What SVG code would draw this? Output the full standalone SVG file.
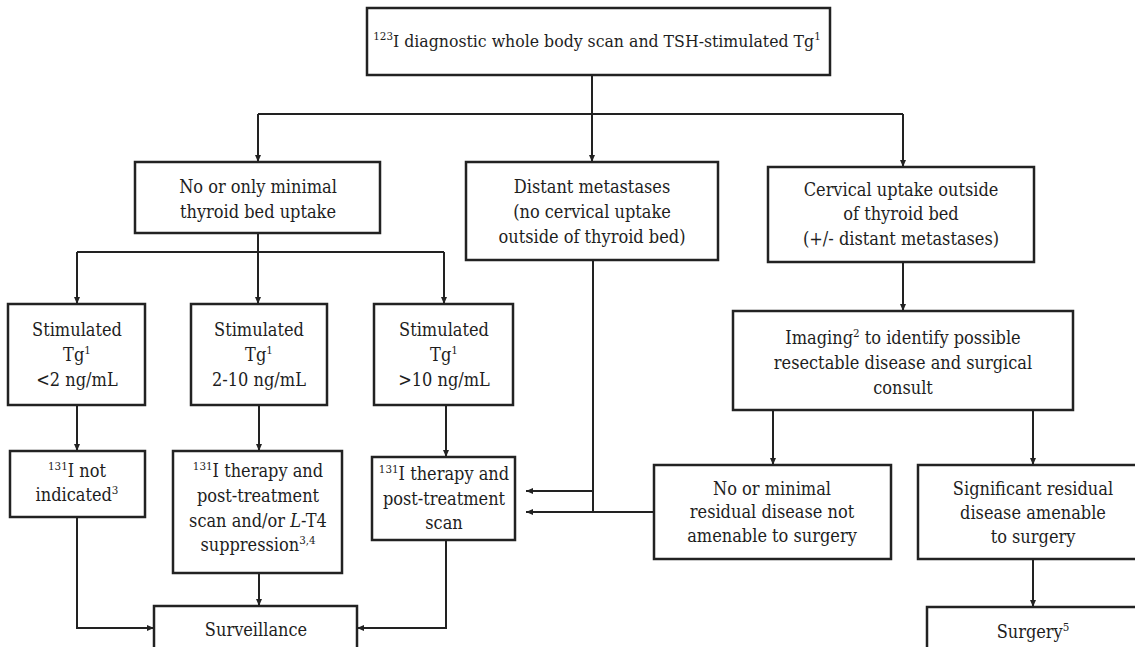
<svg xmlns="http://www.w3.org/2000/svg" width="1135" height="647" viewBox="0 0 1135 647">
<style>
.box{fill:#fff;stroke:#222;stroke-width:2.5}
.t{font-family:'DejaVu Serif Condensed','DejaVu Serif',serif;font-stretch:condensed;font-size:18px;fill:#1e1e1e;text-anchor:middle}
.top{font-size:17.5px}
.sup{font-size:11.5px}
.ln{fill:none;stroke:#222;stroke-width:2}
</style>
<defs>
<marker id="ah" markerWidth="8" markerHeight="8" refX="7" refY="4" orient="auto" markerUnits="userSpaceOnUse"><path d="M0,1 L7,4 L0,7 z" fill="#222"/></marker>
</defs>
<rect width="1135" height="647" fill="#fff"/>
<g id="connectors">
<path class="ln" d="M592,75 V114 M258,114 H903"/>
<path class="ln" d="M258,114 V162" marker-end="url(#ah)"/>
<path class="ln" d="M592,114 V162" marker-end="url(#ah)"/>
<path class="ln" d="M903,114 V167" marker-end="url(#ah)"/>
<path class="ln" d="M258,233 V304" marker-end="url(#ah)"/>
<path class="ln" d="M77,252 H444"/>
<path class="ln" d="M77,252 V304" marker-end="url(#ah)"/>
<path class="ln" d="M444,252 V304" marker-end="url(#ah)"/>
<path class="ln" d="M77,405 V451" marker-end="url(#ah)"/>
<path class="ln" d="M259,405 V451" marker-end="url(#ah)"/>
<path class="ln" d="M446,405 V457" marker-end="url(#ah)"/>
<path class="ln" d="M77,517 V628 H154" marker-end="url(#ah)"/>
<path class="ln" d="M259,573 V606" marker-end="url(#ah)"/>
<path class="ln" d="M446,540 V628 H357" marker-end="url(#ah)"/>
<path class="ln" d="M593,260 V512"/>
<path class="ln" d="M593,491 H526" marker-end="url(#ah)"/>
<path class="ln" d="M654,512 H526" marker-end="url(#ah)"/>
<path class="ln" d="M903,262 V311" marker-end="url(#ah)"/>
<path class="ln" d="M773,410 V465" marker-end="url(#ah)"/>
<path class="ln" d="M1033,410 V465" marker-end="url(#ah)"/>
<path class="ln" d="M1033,559 V607" marker-end="url(#ah)"/>
</g>
<g id="n-top">
<rect class="box" x="367" y="8" width="463" height="67"/>
<text class="t top" x="597" y="47"><tspan class="sup" dy="-7">123</tspan><tspan dy="7">I diagnostic whole body scan and TSH-stimulated Tg</tspan><tspan class="sup" dy="-7">1</tspan></text>
</g>
<g id="n-minimal">
<rect class="box" x="135" y="162" width="245" height="71"/>
<text class="t" x="258" y="193">No or only minimal</text>
<text class="t" x="258" y="218">thyroid bed uptake</text>
</g>
<g id="n-distant">
<rect class="box" x="466" y="162" width="252" height="98"/>
<text class="t" x="592" y="193">Distant metastases</text>
<text class="t" x="592" y="218">(no cervical uptake</text>
<text class="t" x="592" y="243">outside of thyroid bed)</text>
</g>
<g id="n-cervical">
<rect class="box" x="768" y="167" width="266" height="95"/>
<text class="t" x="901" y="196">Cervical uptake outside</text>
<text class="t" x="901" y="220">of thyroid bed</text>
<text class="t" x="901" y="245">(+/- distant metastases)</text>
</g>
<g id="n-tg-low">
<rect class="box" x="8" y="304" width="137" height="101"/>
<text class="t" x="77" y="336">Stimulated</text>
<text class="t" x="77" y="361">Tg<tspan class="sup" dy="-7">1</tspan></text>
<text class="t" x="77" y="386">&lt;2 ng/mL</text>
</g>
<g id="n-tg-mid">
<rect class="box" x="191" y="304" width="136" height="101"/>
<text class="t" x="259" y="336">Stimulated</text>
<text class="t" x="259" y="361">Tg<tspan class="sup" dy="-7">1</tspan></text>
<text class="t" x="259" y="386">2-10 ng/mL</text>
</g>
<g id="n-tg-high">
<rect class="box" x="374" y="304" width="139" height="101"/>
<text class="t" x="444" y="336">Stimulated</text>
<text class="t" x="444" y="361">Tg<tspan class="sup" dy="-7">1</tspan></text>
<text class="t" x="444" y="386">&gt;10 ng/mL</text>
</g>
<g id="n-imaging">
<rect class="box" x="733" y="311" width="340" height="99"/>
<text class="t" x="903" y="344">Imaging<tspan class="sup" dy="-7">2</tspan><tspan dy="7"> to identify possible</tspan></text>
<text class="t" x="903" y="369">resectable disease and surgical</text>
<text class="t" x="903" y="394">consult</text>
</g>
<g id="n-not-indicated">
<rect class="box" x="10" y="451" width="135" height="66"/>
<text class="t" x="77" y="477"><tspan class="sup" dy="-7">131</tspan><tspan dy="7">I not</tspan></text>
<text class="t" x="77" y="501">indicated<tspan class="sup" dy="-7">3</tspan></text>
</g>
<g id="n-therapy-lt4">
<rect class="box" x="173" y="451" width="169" height="122"/>
<text class="t" x="258" y="477"><tspan class="sup" dy="-7">131</tspan><tspan dy="7">I therapy and</tspan></text>
<text class="t" x="258" y="502">post-treatment</text>
<text class="t" x="258" y="527">scan and/or <tspan font-style="italic">L</tspan>-T4</text>
<text class="t" x="258" y="551">suppression<tspan class="sup" dy="-7">3,4</tspan></text>
</g>
<g id="n-therapy">
<rect class="box" x="372" y="457" width="143" height="83"/>
<text class="t" x="444" y="480"><tspan class="sup" dy="-7">131</tspan><tspan dy="7">I therapy and</tspan></text>
<text class="t" x="444" y="505">post-treatment</text>
<text class="t" x="444" y="529">scan</text>
</g>
<g id="n-residual">
<rect class="box" x="654" y="465" width="237" height="94"/>
<text class="t" x="772" y="495">No or minimal</text>
<text class="t" x="772" y="518">residual disease not</text>
<text class="t" x="772" y="542">amenable to surgery</text>
</g>
<g id="n-significant">
<rect class="box" x="918" y="465" width="230" height="94"/>
<text class="t" x="1033" y="495">Significant residual</text>
<text class="t" x="1033" y="519">disease amenable</text>
<text class="t" x="1033" y="543">to surgery</text>
</g>
<g id="n-surveillance">
<rect class="box" x="154" y="606" width="203" height="50"/>
<text class="t" x="256" y="636">Surveillance</text>
</g>
<g id="n-surgery">
<rect class="box" x="927" y="607" width="230" height="50"/>
<text class="t" x="1033" y="638">Surgery<tspan class="sup" dy="-7">5</tspan></text>
</g>
</svg>
